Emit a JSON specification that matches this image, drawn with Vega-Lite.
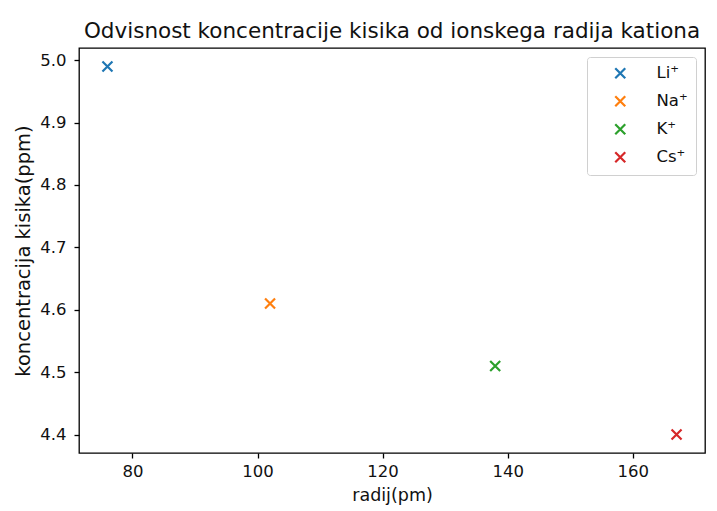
{
  "$schema": "https://vega.github.io/schema/vega-lite/v6.json",
  "width": 626,
  "height": 405,
  "autosize": {"type": "none"},
  "padding": {"left": 79, "top": 48, "right": 12, "bottom": 58},
  "background": "white",
  "title": {
    "text": "Odvisnost koncentracije kisika od ionskega radija kationa",
    "font": "DejaVu Sans",
    "fontSize": 21.5,
    "fontWeight": "normal",
    "color": "#111111",
    "anchor": "middle",
    "offset": 6
  },
  "config": {
    "font": "DejaVu Sans",
    "view": {"stroke": "#000000", "strokeWidth": 1.3},
    "axis": {
      "grid": false,
      "domain": false,
      "tickColor": "#000000",
      "tickSize": 5,
      "tickWidth": 1.3,
      "labelFont": "DejaVu Sans",
      "labelFontSize": 16.5,
      "labelColor": "#111111",
      "titleFont": "DejaVu Sans",
      "titleFontSize": 17.5,
      "titleFontWeight": "normal",
      "titleColor": "#111111",
      "labelPadding": 5
    }
  },
  "data": {
    "values": [
      {"ion": "Li⁺", "radij": 76, "koncentracija": 4.99},
      {"ion": "Na⁺", "radij": 102, "koncentracija": 4.61},
      {"ion": "K⁺", "radij": 138, "koncentracija": 4.51},
      {"ion": "Cs⁺", "radij": 167, "koncentracija": 4.40}
    ]
  },
  "mark": {
    "type": "point",
    "shape": "M-1,-1L1,1M-1,1L1,-1",
    "filled": false,
    "strokeWidth": 2.2,
    "size": 100,
    "opacity": 1
  },
  "encoding": {
    "x": {
      "field": "radij",
      "type": "quantitative",
      "title": "radij(pm)",
      "scale": {"domain": [71.45, 171.55], "nice": false, "zero": false},
      "axis": {"values": [80, 100, 120, 140, 160], "titlePadding": 7}
    },
    "y": {
      "field": "koncentracija",
      "type": "quantitative",
      "title": "koncentracija kisika(ppm)",
      "scale": {"domain": [4.3705, 5.0195], "nice": false, "zero": false},
      "axis": {"values": [4.4, 4.5, 4.6, 4.7, 4.8, 4.9, 5.0], "format": ".1f", "labelPadding": 8, "titlePadding": 6, "titleFontSize": 19.5}
    },
    "color": {
      "field": "ion",
      "type": "nominal",
      "sort": ["Li⁺", "Na⁺", "K⁺", "Cs⁺"],
      "scale": {
        "domain": ["Li⁺", "Na⁺", "K⁺", "Cs⁺"],
        "range": ["#1f77b4", "#ff7f0e", "#2ca02c", "#d62728"]
      },
      "legend": {
        "title": null,
        "orient": "top-right",
        "offset": 9,
        "padding": 8,
        "rowPadding": 8,
        "strokeColor": "#d0d0d0",
        "fillColor": "white",
        "cornerRadius": 3,
        "symbolType": "M-1,-1L1,1M-1,1L1,-1",
        "symbolSize": 100,
        "symbolStrokeWidth": 2.2,
        "symbolFillColor": "transparent",
        "symbolOffset": 17,
        "labelFont": "DejaVu Sans",
        "labelFontSize": 16.5,
        "labelColor": "#111111",
        "labelOffset": 28,
        "labelLimit": 200
      }
    }
  }
}
